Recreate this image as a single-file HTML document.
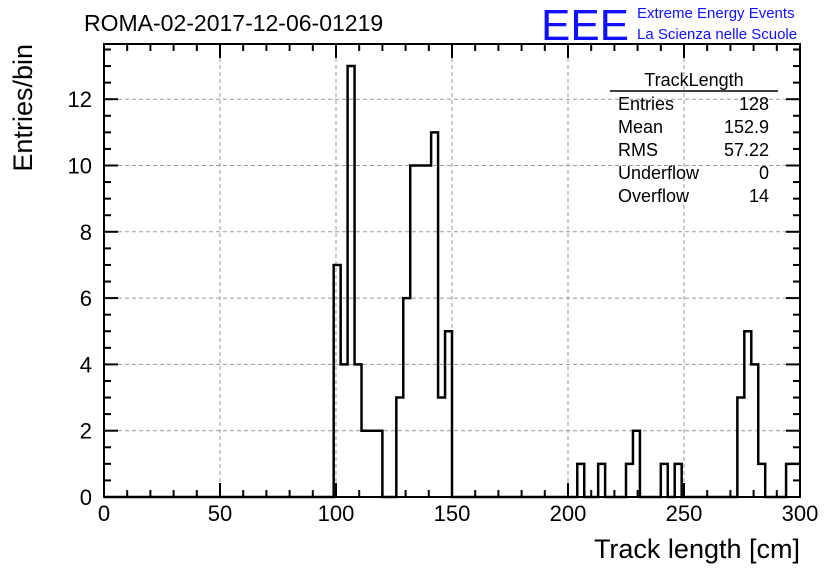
<!DOCTYPE html>
<html><head><meta charset="utf-8"><style>
body{margin:0;background:#fff;}
svg{display:block;font-family:"Liberation Sans",sans-serif;}
</style></head><body>
<svg id="c" width="836" height="572">
<rect x="0" y="0" width="836" height="572" fill="#fff"/>
<text x="84" y="31" font-size="23">ROMA-02-2017-12-06-01219</text>
<g>
<text x="541" y="40" font-size="44" fill="#1010ff" textLength="88" lengthAdjust="spacingAndGlyphs">EEE</text>
<text x="637" y="18" font-size="15" fill="#1010ff">Extreme Energy Events</text>
<text x="637" y="39" font-size="15" fill="#1010ff">La Scienza nelle Scuole</text>
</g>
<g id="grid"></g>
<g id="bars"></g>
<g id="axes"></g>
<g font-size="18">
<text x="694" y="86" text-anchor="middle">TrackLength</text>
<line x1="610" y1="91" x2="778" y2="91" stroke="#000" stroke-width="1.5"/>
<text x="618" y="110">Entries</text><text x="769" y="110" text-anchor="end">128</text>
<text x="618" y="133">Mean</text><text x="769" y="133" text-anchor="end">152.9</text>
<text x="618" y="156">RMS</text><text x="769" y="156" text-anchor="end">57.22</text>
<text x="618" y="179">Underflow</text><text x="769" y="179" text-anchor="end">0</text>
<text x="618" y="202">Overflow</text><text x="769" y="202" text-anchor="end">14</text>
</g>
<text x="800" y="558" font-size="27" text-anchor="end">Track length [cm]</text>
<text transform="translate(32,44) rotate(-90)" font-size="27" text-anchor="end">Entries/bin</text>
</svg>
<script>
const binStart=[99,102,105,108,111,114,117,120,123,126,129,132,135,138,141,144,147,204,213,225,228,240,246,273,276,279,282,294,297];
const counts=[7,4,13,4,2,2,2,0,0,3,6,10,10,10,11,3,5,1,1,1,2,1,1,3,5,4,1,1,1];
const binWidth=3;
const xTicks=[0,50,100,150,200,250,300];
const yTicks=[0,2,4,6,8,10,12];
const L=104,R=800,T=44,B=497;
const X=v=>L+(v)/300*(R-L);
const Y=v=>B-v*33.15;
const NS="http://www.w3.org/2000/svg";
function mk(tag,attrs,parent){const e=document.createElementNS(NS,tag);for(const k in attrs)e.setAttribute(k,attrs[k]);parent.appendChild(e);return e;}
const grid=document.getElementById('grid'),axes=document.getElementById('axes'),bars=document.getElementById('bars');
xTicks.forEach(t=>{if(t>0&&t<300){const l=mk('line',{x1:X(t),x2:X(t),y1:T,y2:B,stroke:'#999','stroke-dasharray':'4,3','stroke-width':1},grid);

}});
yTicks.forEach(t=>{if(t>0){const l=mk('line',{x1:L,x2:R,y1:Y(t),y2:Y(t),stroke:'#999','stroke-dasharray':'4,3','stroke-width':1},grid);

}});
// histogram path
const m=new Map();binStart.forEach((b,i)=>m.set(b,counts[i]));
let d='M'+X(0)+','+Y(0);let prev=0;
for(let b=0;b<300;b+=binWidth){const v=m.get(b)||0;if(v!==prev){d+=' L'+X(b)+','+Y(v);}prev=v;d+=' L'+X(b+binWidth)+','+Y(v);}
const p=mk('path',{d:d,fill:'none',stroke:'#000','stroke-width':2.5},bars);


const fr=mk('rect',{x:L,y:T,width:R-L,height:B-T,fill:'none',stroke:'#000','stroke-width':2},axes);


for(let v=0;v<=300;v+=10){const len=v%50===0?14:7;
mk('line',{x1:X(v),x2:X(v),y1:B,y2:B-len,stroke:'#000','stroke-width':2},axes);
mk('line',{x1:X(v),x2:X(v),y1:T,y2:T+len,stroke:'#000','stroke-width':2},axes);}
for(let v=0;v<=13.5;v+=0.5){const len=v%2===0?14:7;const y=Y(v);if(y<T)continue;
mk('line',{x1:L,x2:L+len,y1:y,y2:y,stroke:'#000','stroke-width':2},axes);
mk('line',{x1:R,x2:R-len,y1:y,y2:y,stroke:'#000','stroke-width':2},axes);}
xTicks.forEach(t=>{const e=mk('text',{x:X(t),y:521,'font-size':22,'text-anchor':'middle'},axes);e.textContent=t;

});
yTicks.forEach(t=>{const e=mk('text',{x:92,y:Y(t)+8,'font-size':22,'text-anchor':'end'},axes);e.textContent=t;

});
</script>
</body></html>
